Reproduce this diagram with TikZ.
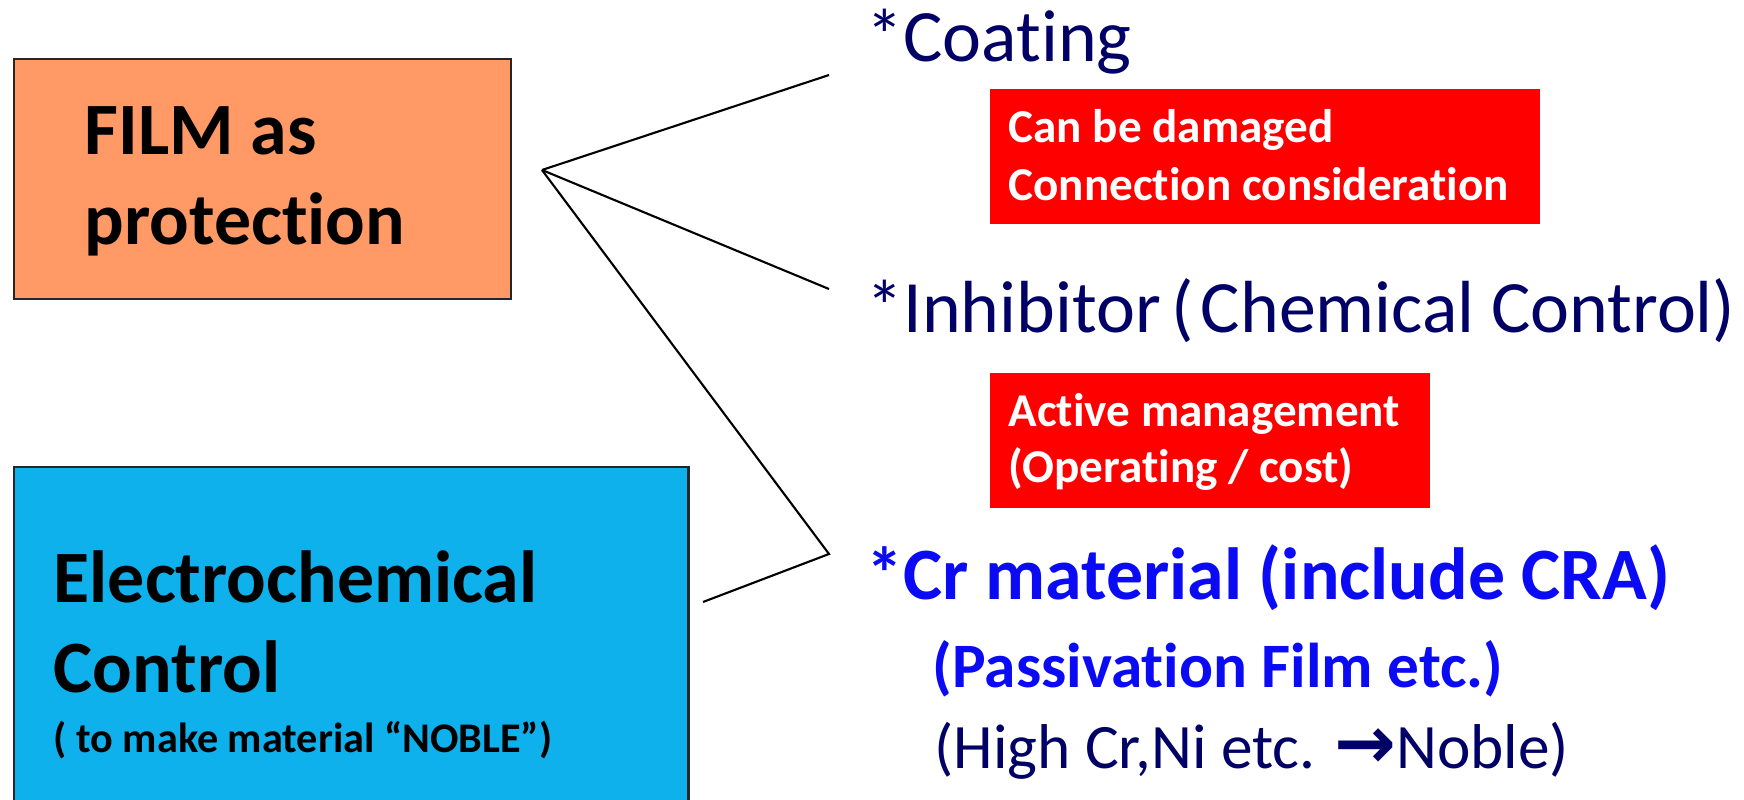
\documentclass[tikz,border=0pt]{standalone}
\usepackage{fontspec}
\setmainfont{Carlito}[Ligatures=CommonOff]
\newfontfamily\arrowfont{DejaVu Sans}
\definecolor{filmorange}{HTML}{FF9966}
\definecolor{echemblue}{HTML}{0EB1EB}
\definecolor{navy}{HTML}{000066}
\definecolor{warnred}{HTML}{FF0000}
\definecolor{crblue}{HTML}{0A0AF5}
\tikzset{
  boxline/.style={draw=black!85, line width=0.6pt, inner sep=0pt, anchor=north west},
  warnbox/.style={fill=warnred, inner sep=0pt, anchor=north west},
  txt/.style={anchor=base west, inner sep=0pt},
  bigtxt/.style={txt, font=\fontsize{21}{25}\selectfont},
  warntxt/.style={txt, text=white, font=\fontsize{13.4}{16}\selectfont\bfseries},
  branch/.style={line width=0.6pt, draw=black}
}

\begin{document}
\begin{tikzpicture}[x=0.01cm, y=-0.01cm]
		\useasboundingbox (0,0) rectangle (1744,800);
		\clip (0,0) rectangle (1744,800);
		
		% Boxes
		\node[boxline, fill=filmorange, minimum width=4.97cm, minimum height=2.40cm] (film) at (13,58) {};
		\node[boxline, fill=echemblue, minimum width=6.74cm, minimum height=4.00cm] (echem) at (13,466) {};
		%% red notes
		\node[warnbox, minimum width=5.50cm, minimum height=1.35cm] (note1) at (989,88) {};
		\node[warnbox, minimum width=4.40cm, minimum height=1.35cm] (note2) at (989,372) {};
		
		% Branches
		\coordinate (hub) at (542,170);
		\coordinate (tocoat) at (829,75);
		\coordinate (toinhib) at (829,289);
		\coordinate (tocr) at (829,554);
		\coordinate (toechem) at (703,602);
		\draw[branch] (hub) -- (tocoat);
		\draw[branch] (hub) -- (toinhib);
		\draw[branch, line join=miter] (hub) -- (tocr) -- (toechem);
		
		% Box texts
		\node[bigtxt, font=\fontsize{21}{25}\selectfont\bfseries] (film1) at (84,154) {FILM as};
		\node[bigtxt, font=\fontsize{21}{25}\selectfont\bfseries] (film2) at (84,244) {protection};
		\node[bigtxt, font=\fontsize{21}{25}\selectfont\bfseries] (echem1) at (53,602) {Electrochemical};
		\node[bigtxt, font=\fontsize{21}{25}\selectfont\bfseries] (echem2) at (53,692) {Control};
		\node[txt, font=\fontsize{12}{14}\selectfont\bfseries] (echem3) at (53,752) {( to make material “NOBLE”)};
		
		% Items
		\node[bigtxt, text=navy] (coat) at (866,61) {*Coating};
		\node[warntxt] (note1a) at (1008,142) {Can be damaged};
		\node[warntxt] (note1b) at (1008,200) {Connection consideration};
		\node[bigtxt, text=navy] (inhib) at (866,332) {*Inhibitor\hspace{3pt}(\hspace{2pt}Chemical Control)};
		\node[warntxt] (note2a) at (1008,426) {Active management};
		\node[warntxt] (note2b) at (1008,482) {(Operating / cost)};
		\node[bigtxt, text=crblue, font=\fontsize{21}{25}\selectfont\bfseries] (cr) at (866,599) {*Cr material (include CRA)};
		\node[txt, text=crblue, font=\fontsize{18}{21}\selectfont\bfseries] (pass) at (932,687) {(Passivation Film etc.)};
		\node[txt, text=navy, font=\fontsize{18}{21}\selectfont] (high) at (934,768) {(High Cr,Ni etc. {\arrowfont\bfseries\fontsize{21}{21}\selectfont →}Noble)};
	\end{tikzpicture}
\end{document}
